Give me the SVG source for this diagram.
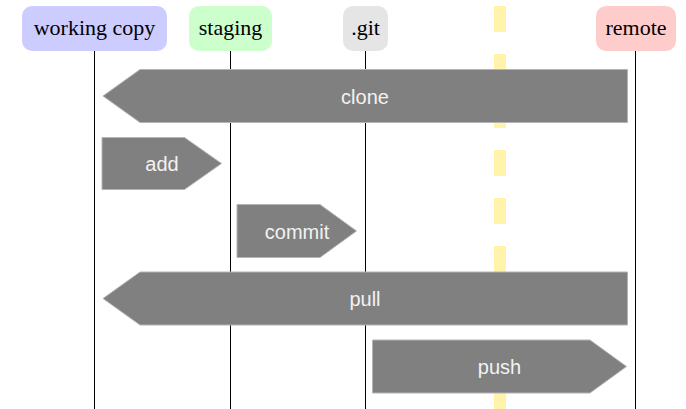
<svg xmlns="http://www.w3.org/2000/svg" width="686" height="409" viewBox="0 0 686 409">
<style>
.box{stroke:none}
.nl{font-family:"Liberation Serif","Times New Roman",serif;font-size:22px;fill:#000;text-anchor:middle}
.life{stroke:#000;stroke-width:1;fill:none}
.arr{fill:#808080;stroke:#b4b4b4;stroke-width:1}
.al{font-family:"Liberation Sans",Arial,sans-serif;font-size:20px;fill:#f2f2f2;text-anchor:middle}
</style>
<rect width="686" height="409" fill="#fff"/>
<g id="lifelines">
<line class="life" x1="94.5" y1="50" x2="94.5" y2="409"/>
<line class="life" x1="230.5" y1="50" x2="230.5" y2="409"/>
<line class="life" x1="365.5" y1="50" x2="365.5" y2="409"/>
<line class="life" x1="635.5" y1="50" x2="635.5" y2="409"/>
</g>
<line id="divider" x1="500" y1="6" x2="500" y2="409" stroke="#fff4aa" stroke-width="12" stroke-dasharray="26 22"/>
<g id="node-working-copy">
<rect class="box" x="22" y="6" width="145" height="45" rx="10" fill="#ccccff"/>
<text class="nl" x="94.5" y="35">working copy</text>
</g>
<g id="node-staging">
<rect class="box" x="189" y="6" width="83" height="45" rx="10" fill="#ccffcc"/>
<text class="nl" x="230.5" y="35">staging</text>
</g>
<g id="node-git">
<rect class="box" x="343" y="6" width="45" height="45" rx="10" fill="#e5e5e5"/>
<text class="nl" x="365.5" y="35">.git</text>
</g>
<g id="node-remote">
<rect class="box" x="596" y="6" width="80" height="45" rx="10" fill="#ffcccc"/>
<text class="nl" x="636" y="35">remote</text>
</g>
<g id="connectors">
<g id="clone">
<polygon class="arr" points="627.5,69.5 140,69.5 103,96 140,122.5 627.5,122.5"/>
<text class="al" x="365" y="104">clone</text>
</g>
<g id="add">
<polygon class="arr" points="102,137.5 184.5,137.5 221.5,163.5 184.5,189.5 102,189.5"/>
<text class="al" x="162" y="171">add</text>
</g>
<g id="commit">
<polygon class="arr" points="237,204.5 320,204.5 356.5,231 320,257.5 237,257.5"/>
<text class="al" x="297" y="239">commit</text>
</g>
<g id="pull">
<polygon class="arr" points="627.5,272 140,272 103,298.5 140,325 627.5,325"/>
<text class="al" x="365" y="306">pull</text>
</g>
<g id="push">
<polygon class="arr" points="372.5,340 590,340 626.5,366.5 590,393 372.5,393"/>
<text class="al" x="499.5" y="374">push</text>
</g>
</g>
</svg>
